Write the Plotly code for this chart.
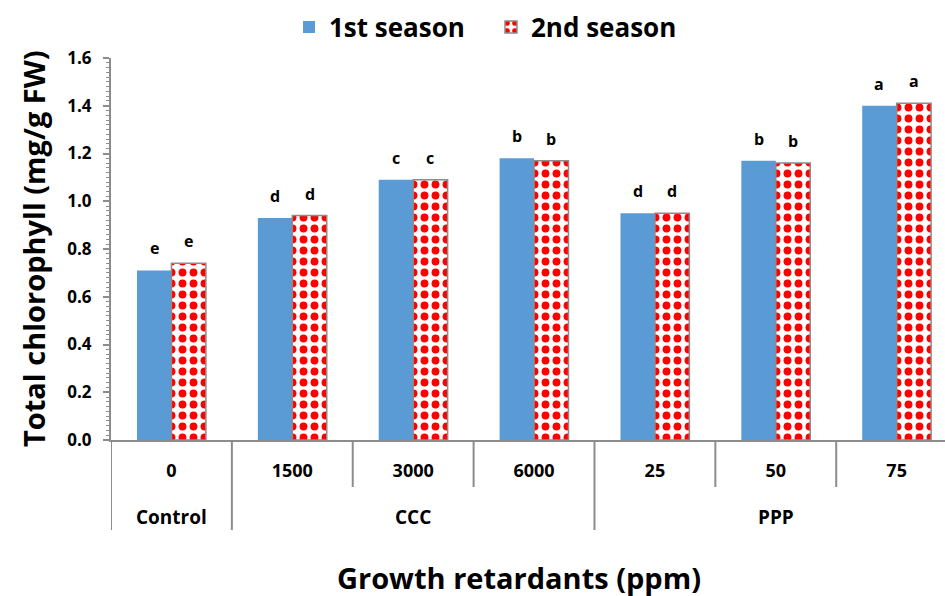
import plotly.graph_objects as go

doses = ["0", "1500", "3000", "6000", "25", "50", "75"]
groups = ["Control", "CCC", "PPP"]
group_members = [[0], [1, 2, 3], [4, 5, 6]]
season1 = [0.71, 0.93, 1.09, 1.18, 0.95, 1.17, 1.40]
season2 = [0.74, 0.94, 1.09, 1.17, 0.95, 1.16, 1.41]
letters1 = ["e", "d", "c", "b", "d", "b", "a"]
letters2 = ["e", "d", "c", "b", "d", "b", "a"]
yticks = [0.0, 0.2, 0.4, 0.6, 0.8, 1.0, 1.2, 1.4, 1.6]

FONT = "Open Sans"
GREY = "#8c8c8c"
xs = list(range(len(doses)))

# plot area in pixels: left 111, top 58, bottom 440 -> height 382, width 834
PH = 382.0
PW = 834.0
BARGAP = 0.43
half = (1 - BARGAP) / 4  # offset of each bar centre from category centre

fig = go.Figure()
fig.add_trace(go.Bar(
    x=xs, y=season1, name="1st season",
    marker=dict(color="#5B9BD5", line=dict(width=0)),
))
fig.add_trace(go.Bar(
    x=xs, y=season2, name="2nd season",
    marker=dict(color="white", line=dict(color=GREY, width=1.5),
                pattern=dict(shape=".", fgcolor="#ff0000", bgcolor="white",
                             fgopacity=1, size=11, solidity=0.4, fillmode="replace")),
))

shapes = []
bottom_full = -90 / PH
bottom_inner = -47 / PH
full_lines = [-0.5]
for m in group_members:
    full_lines.append(m[-1] + 0.5)
inner_lines = []
for m in group_members:
    for i in m[:-1]:
        inner_lines.append(i + 0.5)
for xv in full_lines:
    shapes.append(dict(type="line", xref="x", yref="paper", x0=xv, x1=xv,
                       y0=0, y1=bottom_full, line=dict(color=GREY, width=2)))
for xv in inner_lines:
    shapes.append(dict(type="line", xref="x", yref="paper", x0=xv, x1=xv,
                       y0=0, y1=bottom_inner, line=dict(color=GREY, width=2)))

annotations = []
for i in xs:
    for sign, vals, labs in ((-1, season1, letters1), (1, season2, letters2)):
        annotations.append(dict(
            x=i + sign * half, y=vals[i], xref="x", yref="y", yanchor="bottom",
            yshift=9, text=labs[i], showarrow=False,
            font=dict(family=FONT, size=16, color="black", weight="bold")))
for g, m in zip(groups, group_members):
    annotations.append(dict(
        x=sum(m) / len(m), y=-77 / PH, xref="x", yref="paper",
        text=g, showarrow=False, yanchor="middle",
        font=dict(family=FONT, size=19, color="black", weight="bold")))
annotations.append(dict(
    x=(519 - 111) / PW, y=-137 / PH, xref="paper", yref="paper",
    text="Growth retardants (ppm)", showarrow=False, xanchor="center", yanchor="middle",
    font=dict(family=FONT, size=29, color="black", weight="bold")))
annotations.append(dict(
    x=-78 / PW, y=0.5, xref="paper", yref="paper", textangle=-90,
    text="Total chlorophyll (mg/g FW)", showarrow=False, xanchor="center", yanchor="middle",
    font=dict(family=FONT, size=29, color="black", weight="bold")))

fig.update_layout(
    width=945, height=596,
    margin=dict(l=111, r=0, t=58, b=156, autoexpand=False),
    paper_bgcolor="white", plot_bgcolor="white",
    barmode="group", bargap=BARGAP, bargroupgap=0,
    font=dict(family=FONT, color="black"),
    shapes=shapes, annotations=annotations,
    legend=dict(orientation="h", x=(289 - 111) / PW, xanchor="left", y=1 + 31 / PH, yanchor="middle",
                font=dict(family=FONT, size=26, color="black", weight="bold"),
                itemwidth=30, entrywidth=157, entrywidthmode="pixels", traceorder="normal"),
    xaxis=dict(
        range=[-0.5, 6.4], tickmode="array", tickvals=xs, ticktext=doses,
        showline=True, linecolor=GREY, linewidth=2, ticks="",
        showgrid=False, zeroline=False, ticklabelstandoff=13, automargin=False,
        tickfont=dict(family=FONT, size=18, color="black", weight="bold"),
    ),
    yaxis=dict(
        range=[0, 1.6], tickmode="array", tickvals=yticks,
        tickformat=".1f", showline=True, linecolor=GREY, linewidth=2,
        ticks="outside", ticklen=6, tickcolor=GREY, tickwidth=1.5,
        minor=dict(dtick=0.02, ticks="outside", ticklen=3, tickcolor=GREY, tickwidth=1),
        showgrid=False, zeroline=False, automargin=False, ticklabelstandoff=8,
        tickfont=dict(family=FONT, size=17, color="black", weight="bold"),
    ),
)

fig.write_html("out.html", config={"displayModeBar": False},
               post_script="document.body.style.margin='0';")
